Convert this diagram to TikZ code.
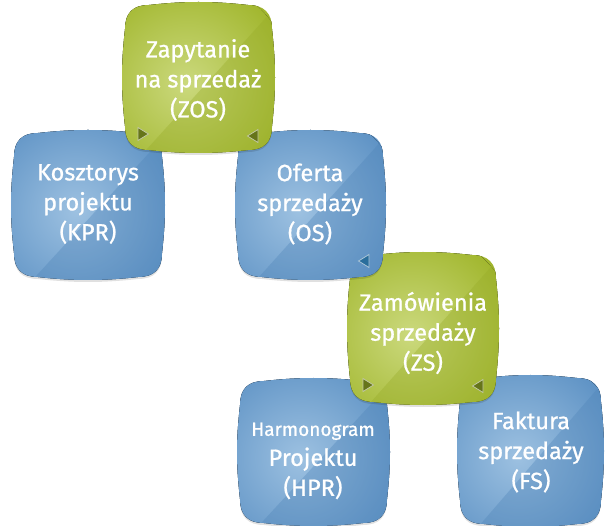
\documentclass[tikz,border=0pt]{standalone}
\usepackage{fontspec}
\setmainfont{Fira Sans}
\newfontfamily\lblfont[FakeBold=0.8]{Fira Sans}
\definecolor{bbase}{HTML}{5F93C5}
\definecolor{blight}{HTML}{9DC1E1}
\definecolor{bdark}{HTML}{4F84B8}
\definecolor{gbase}{HTML}{A2B72F}
\definecolor{glight}{HTML}{CBD97D}
\definecolor{gdark}{HTML}{97AB28}
\definecolor{gtri}{HTML}{66751A}
\definecolor{btri}{HTML}{2A6E9C}
\newcommand\sqp[4]{(#1+24,#2) .. controls (#1+60,#2-4) and (#3-60,#2-4) .. (#3-24,#2) .. controls (#3-8,#2) and (#3,#2+8) .. (#3,#2+24) .. controls (#3+4,#2+60) and (#3+4,#4-60) .. (#3,#4-24) .. controls (#3,#4-8) and (#3-8,#4) .. (#3-24,#4) .. controls (#3-60,#4+4) and (#1+60,#4+4) .. (#1+24,#4) .. controls (#1+8,#4) and (#1,#4-8) .. (#1,#4-24) .. controls (#1-4,#4-60) and (#1-4,#2+60) .. (#1,#2+24) .. controls (#1,#2+8) and (#1+8,#2) .. (#1+24,#2) -- cycle}
\newcommand\sqbox[7]{%
  \fill[black,opacity=.12,yshift=-2pt] \sqp{#1}{#2}{#3}{#4};
  \fill[#5] \sqp{#1}{#2}{#3}{#4};
  \begin{scope}
    \clip \sqp{#1}{#2}{#3}{#4};
    \fill[inner color=#6, outer color=#5] ({(#1+#3)/2-12},{(#2+#4)/2+6}) circle (105pt);
    \fill[#7,opacity=.35] (#1+12,#4+10) -- (#3+10,#2-5) -- (#3+10,#4+10) -- cycle;
  \end{scope}}
\newcommand\trir[3]{\fill[#3,draw=#3!40!white,line width=.8pt] (#1-5,#2-6.5) -- (#1+5.5,#2) -- (#1-5,#2+6.5) -- cycle;}
\newcommand\tril[3]{\fill[#3,draw=#3!40!white,line width=.8pt] (#1+5,#2-6.5) -- (#1-5.5,#2) -- (#1+5,#2+6.5) -- cycle;}
\tikzset{lbl/.style={text=white, align=center, font=\lblfont\fontsize{23.5}{30}\selectfont, inner sep=0pt}}
\begin{document}
\begin{tikzpicture}[x=1pt,y=-1pt]
\useasboundingbox (0,0) rectangle (605,526);
% bottom row
\sqbox{240}{381}{387}{523}{bbase}{blight}{bdark}
\sqbox{460}{378}{601}{524}{bbase}{blight}{bdark}
% ZS
\sqbox{350}{255}{496}{402}{gbase}{glight}{gdark}
\trir{368}{385}{gtri}
\tril{478}{386}{gtri}
% middle row
\sqbox{14}{133}{162}{277}{bbase}{blight}{bdark}
\sqbox{238}{133}{383}{277}{bbase}{blight}{bdark}
\tril{364}{261}{btri}
% ZOS
\sqbox{125}{5}{272}{150}{gbase}{glight}{gdark}
\trir{143}{134}{gtri}
\tril{253}{136}{gtri}
% labels
\node[lbl] (zos) at (198,80) {Zapytanie\\na sprzedaż\\(ZOS)};
\node[lbl] (kpr) at (88,204) {Kosztorys\\projektu\\(KPR)};
\node[lbl] (os) at (310,204) {Oferta\\sprzedaży\\(OS)};
\node[lbl] (zs) at (423,333) {Zamówienia\\sprzedaży\\(ZS)};
\node[lbl] (hpr) at (313,461) {{\fontsize{19}{30}\selectfont Harmonogram}\\Projektu\\(HPR)};
\node[lbl] (fs) at (531,452) {Faktura\\sprzedaży\\(FS)};
\end{tikzpicture}
\end{document}
